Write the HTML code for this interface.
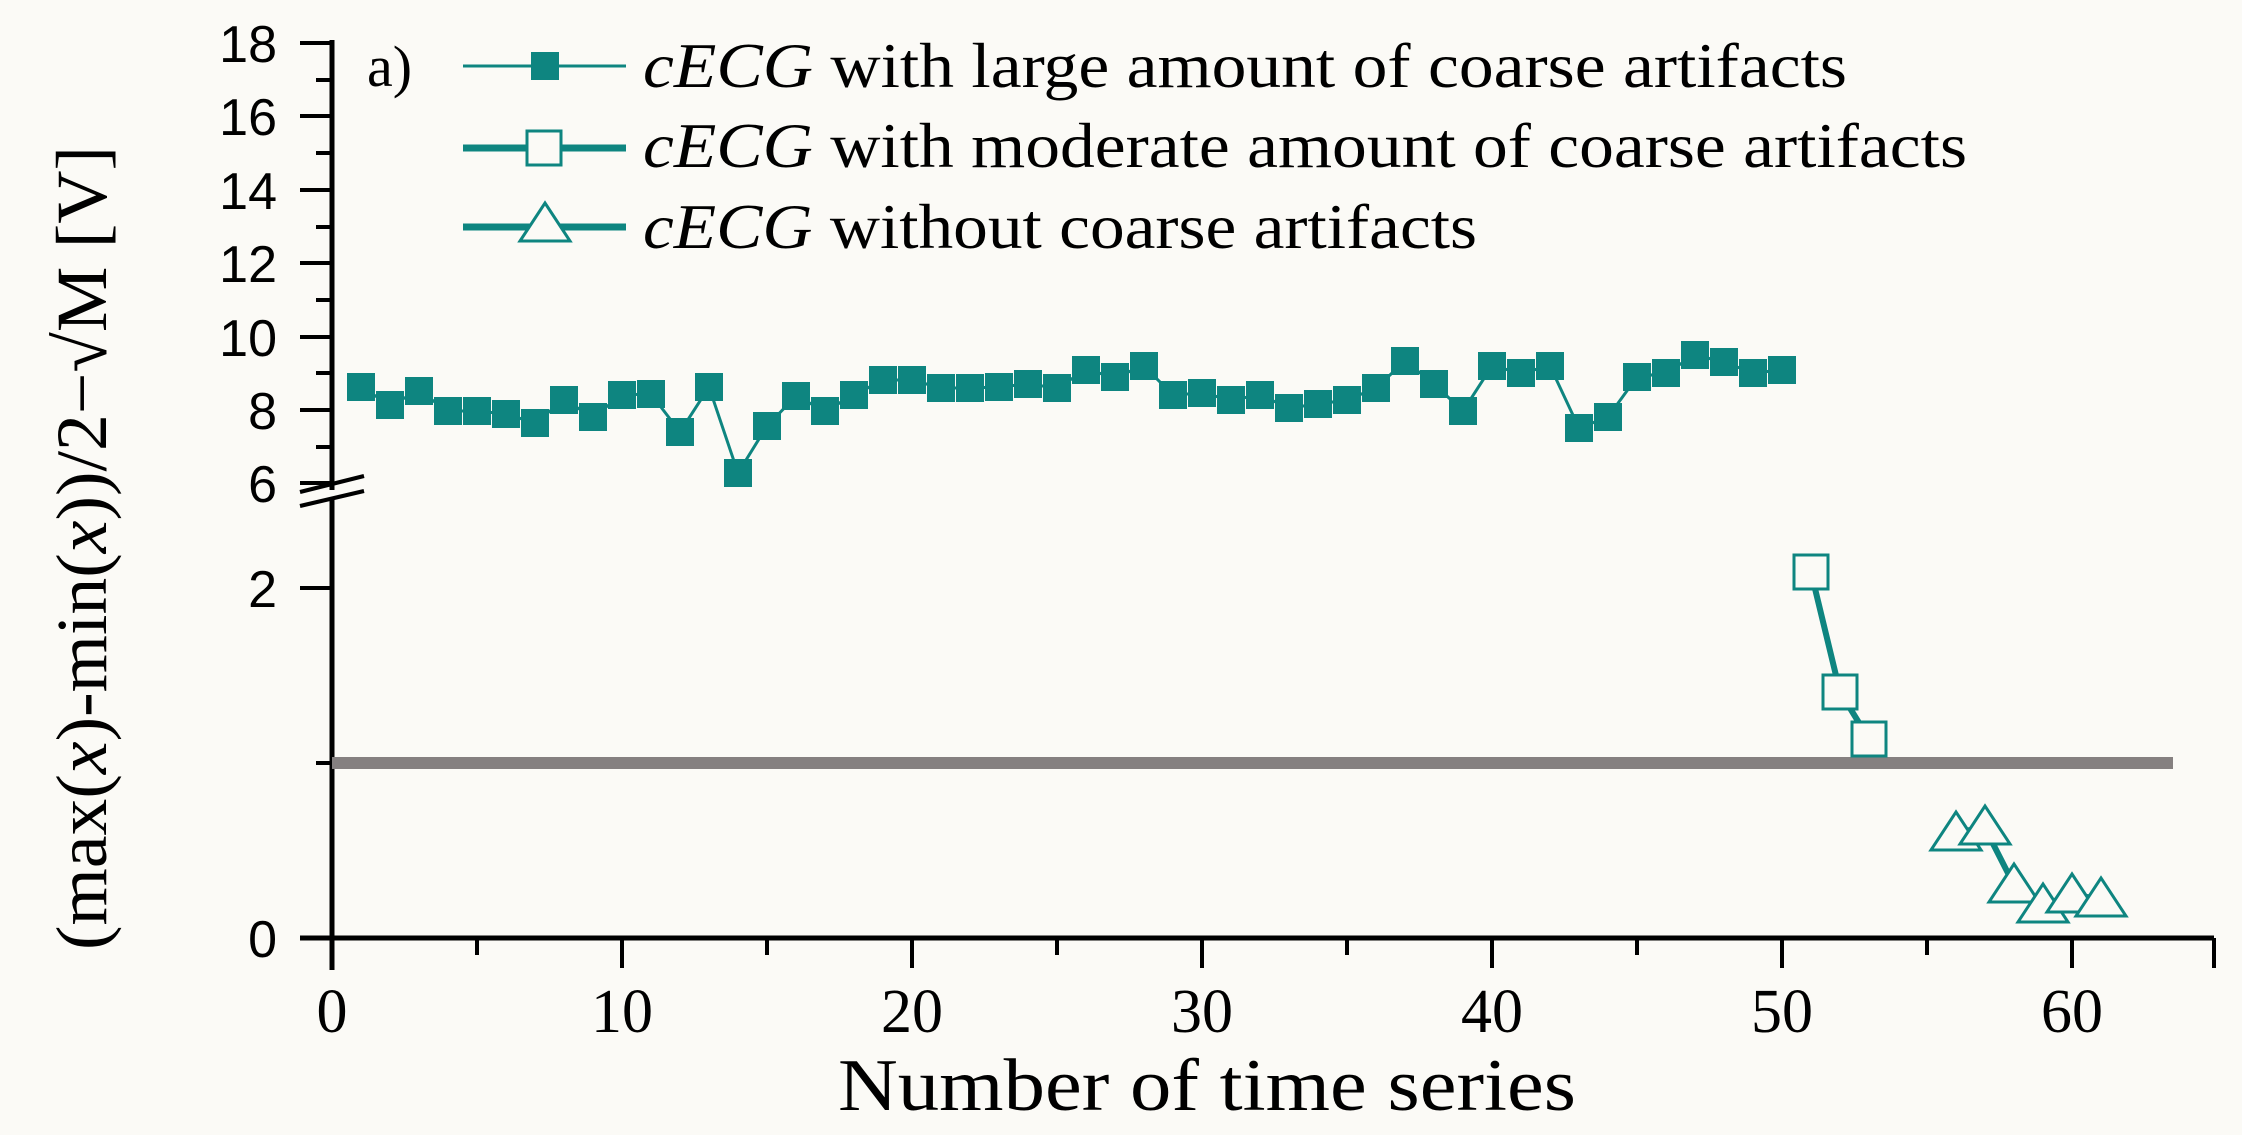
<!DOCTYPE html>
<html><head><meta charset="utf-8"><style>
html,body{margin:0;padding:0;background:#fbfaf6;}
svg{display:block;}
.sans{font-family:"Liberation Sans",Arial,sans-serif;}
.serif{font-family:"Liberation Serif","Times New Roman",serif;}
</style></head><body>
<svg width="2242" height="1135" viewBox="0 0 2242 1135" xmlns="http://www.w3.org/2000/svg">
<rect width="2242" height="1135" fill="#fbfaf6"/>
<g stroke="#000" stroke-width="5" fill="none">
<line x1="332" y1="40" x2="332" y2="490"/>
<line x1="332" y1="500" x2="332" y2="970"/>
<line x1="300" y1="938" x2="2214" y2="938"/>
</g>
<g stroke="#000" stroke-width="4">
<line x1="300" y1="43" x2="332" y2="43"/><line x1="300" y1="116" x2="332" y2="116"/>
<line x1="300" y1="190" x2="332" y2="190"/><line x1="300" y1="263" x2="332" y2="263"/>
<line x1="300" y1="337" x2="332" y2="337"/><line x1="300" y1="410" x2="332" y2="410"/>
<line x1="300" y1="483" x2="332" y2="483"/>
<line x1="316" y1="80" x2="332" y2="80"/><line x1="316" y1="153" x2="332" y2="153"/>
<line x1="316" y1="227" x2="332" y2="227"/><line x1="316" y1="300" x2="332" y2="300"/>
<line x1="316" y1="373" x2="332" y2="373"/><line x1="316" y1="447" x2="332" y2="447"/>
<line x1="300" y1="588" x2="332" y2="588"/><line x1="316" y1="763" x2="332" y2="763"/>
<line x1="300" y1="492" x2="364" y2="476"/><line x1="300" y1="506" x2="364" y2="491"/>
</g>
<g stroke="#000" stroke-width="4">
<line x1="332" y1="938" x2="332" y2="968"/><line x1="622" y1="938" x2="622" y2="968"/>
<line x1="912" y1="938" x2="912" y2="968"/><line x1="1202" y1="938" x2="1202" y2="968"/>
<line x1="1492" y1="938" x2="1492" y2="968"/><line x1="1782" y1="938" x2="1782" y2="968"/>
<line x1="2072" y1="938" x2="2072" y2="968"/>
<line x1="477" y1="938" x2="477" y2="955"/><line x1="767" y1="938" x2="767" y2="955"/>
<line x1="1057" y1="938" x2="1057" y2="955"/><line x1="1347" y1="938" x2="1347" y2="955"/>
<line x1="1637" y1="938" x2="1637" y2="955"/><line x1="1927" y1="938" x2="1927" y2="955"/>
<line x1="2214" y1="938" x2="2214" y2="968"/>
</g>
<g class="sans" font-size="52" text-anchor="end" fill="#000">
<text x="277" y="62">18</text><text x="277" y="135">16</text><text x="277" y="209">14</text>
<text x="277" y="282">12</text><text x="277" y="356">10</text><text x="277" y="429">8</text>
<text x="277" y="502">6</text><text x="277" y="607">2</text><text x="277" y="957">0</text>
</g>
<g class="serif" font-size="62" text-anchor="middle" fill="#000">
<text x="332" y="1032">0</text><text x="622" y="1032">10</text><text x="912" y="1032">20</text>
<text x="1202" y="1032">30</text><text x="1492" y="1032">40</text><text x="1782" y="1032">50</text>
<text x="2072" y="1032">60</text>
</g>
<text class="serif" x="838" y="1110" font-size="74" textLength="738" lengthAdjust="spacingAndGlyphs">Number of time series</text>
<text class="serif" transform="translate(106,950) rotate(-90)" font-size="72" textLength="804" lengthAdjust="spacingAndGlyphs">(max(<tspan font-style="italic">x</tspan>)-min(<tspan font-style="italic">x</tspan>))/2−√M [V]</text>
<line x1="332" y1="763" x2="2173" y2="763" stroke="#858080" stroke-width="12"/>
<polyline fill="none" stroke="#0e8580" stroke-width="3" points="361,387 390,405 419,391 448,411 477,411 506,414 535,423 564,400 593,417 622,395 651,394 680,432 709,387 738,473 767,426 796,396 825,411 854,395 883,380 912,380 941,388 970,388 999,387 1028,384 1057,388 1086,370 1115,377 1144,366 1173,395 1202,393 1231,400 1260,395 1289,408 1318,404 1347,400 1376,388 1405,361 1434,384 1463,411 1492,366 1521,373 1550,366 1579,428 1608,417 1637,377 1666,373 1695,355 1724,362 1753,373 1782,370"/>
<g fill="#0e8580">
<rect x="347" y="373" width="28" height="28"/><rect x="376" y="391" width="28" height="28"/><rect x="405" y="377" width="28" height="28"/><rect x="434" y="397" width="28" height="28"/><rect x="463" y="397" width="28" height="28"/><rect x="492" y="400" width="28" height="28"/><rect x="521" y="409" width="28" height="28"/><rect x="550" y="386" width="28" height="28"/><rect x="579" y="403" width="28" height="28"/><rect x="608" y="381" width="28" height="28"/><rect x="637" y="380" width="28" height="28"/><rect x="666" y="418" width="28" height="28"/><rect x="695" y="373" width="28" height="28"/><rect x="724" y="459" width="28" height="28"/><rect x="753" y="412" width="28" height="28"/><rect x="782" y="382" width="28" height="28"/><rect x="811" y="397" width="28" height="28"/><rect x="840" y="381" width="28" height="28"/><rect x="869" y="366" width="28" height="28"/><rect x="898" y="366" width="28" height="28"/><rect x="927" y="374" width="28" height="28"/><rect x="956" y="374" width="28" height="28"/><rect x="985" y="373" width="28" height="28"/><rect x="1014" y="370" width="28" height="28"/><rect x="1043" y="374" width="28" height="28"/><rect x="1072" y="356" width="28" height="28"/><rect x="1101" y="363" width="28" height="28"/><rect x="1130" y="352" width="28" height="28"/><rect x="1159" y="381" width="28" height="28"/><rect x="1188" y="379" width="28" height="28"/><rect x="1217" y="386" width="28" height="28"/><rect x="1246" y="381" width="28" height="28"/><rect x="1275" y="394" width="28" height="28"/><rect x="1304" y="390" width="28" height="28"/><rect x="1333" y="386" width="28" height="28"/><rect x="1362" y="374" width="28" height="28"/><rect x="1391" y="347" width="28" height="28"/><rect x="1420" y="370" width="28" height="28"/><rect x="1449" y="397" width="28" height="28"/><rect x="1478" y="352" width="28" height="28"/><rect x="1507" y="359" width="28" height="28"/><rect x="1536" y="352" width="28" height="28"/><rect x="1565" y="414" width="28" height="28"/><rect x="1594" y="403" width="28" height="28"/><rect x="1623" y="363" width="28" height="28"/><rect x="1652" y="359" width="28" height="28"/><rect x="1681" y="341" width="28" height="28"/><rect x="1710" y="348" width="28" height="28"/><rect x="1739" y="359" width="28" height="28"/><rect x="1768" y="356" width="28" height="28"/>
</g>
<polyline fill="none" stroke="#0e8580" stroke-width="6" points="1811,572 1840,692 1869,739"/>
<g fill="#fbfaf6" stroke="#0e8580" stroke-width="3">
<rect x="1794" y="555" width="34" height="34"/><rect x="1823" y="675" width="34" height="34"/><rect x="1852" y="722" width="34" height="34"/>
</g>
<polyline fill="none" stroke="#0e8580" stroke-width="6" points="1956,832 1985,828 2014,885 2043,905 2072,895 2101,899"/>
<g fill="#fbfaf6" stroke="#0e8580" stroke-width="3">
<polygon points="1956,812 1981,850 1931,850"/><polygon points="1985,806 2010,844 1960,844"/>
<polygon points="2014,864 2039,902 1989,902"/><polygon points="2043,884 2068,922 2018,922"/>
<polygon points="2072,874 2097,912 2047,912"/><polygon points="2101,878 2126,916 2076,916"/>
</g>
<text class="serif" x="367" y="86" font-size="58">a)</text>
<line x1="463" y1="66" x2="626" y2="66" stroke="#0e8580" stroke-width="3"/>
<rect x="531" y="52" width="28" height="28" fill="#0e8580"/>
<line x1="463" y1="148" x2="626" y2="148" stroke="#0e8580" stroke-width="7"/>
<rect x="527" y="131" width="34" height="34" fill="#fbfaf6" stroke="#0e8580" stroke-width="3"/>
<line x1="463" y1="227" x2="626" y2="227" stroke="#0e8580" stroke-width="7"/>
<polygon points="545,203 570,241 520,241" fill="#fbfaf6" stroke="#0e8580" stroke-width="3"/>
<g class="serif" font-size="64" fill="#000">
<text x="643" y="87" textLength="1204" lengthAdjust="spacingAndGlyphs"><tspan font-style="italic">cECG</tspan> with large amount of coarse artifacts</text>
<text x="643" y="167" textLength="1324" lengthAdjust="spacingAndGlyphs"><tspan font-style="italic">cECG</tspan> with moderate amount of coarse artifacts</text>
<text x="643" y="248" textLength="834" lengthAdjust="spacingAndGlyphs"><tspan font-style="italic">cECG</tspan> without coarse artifacts</text>
</g>
</svg>
</body></html>
